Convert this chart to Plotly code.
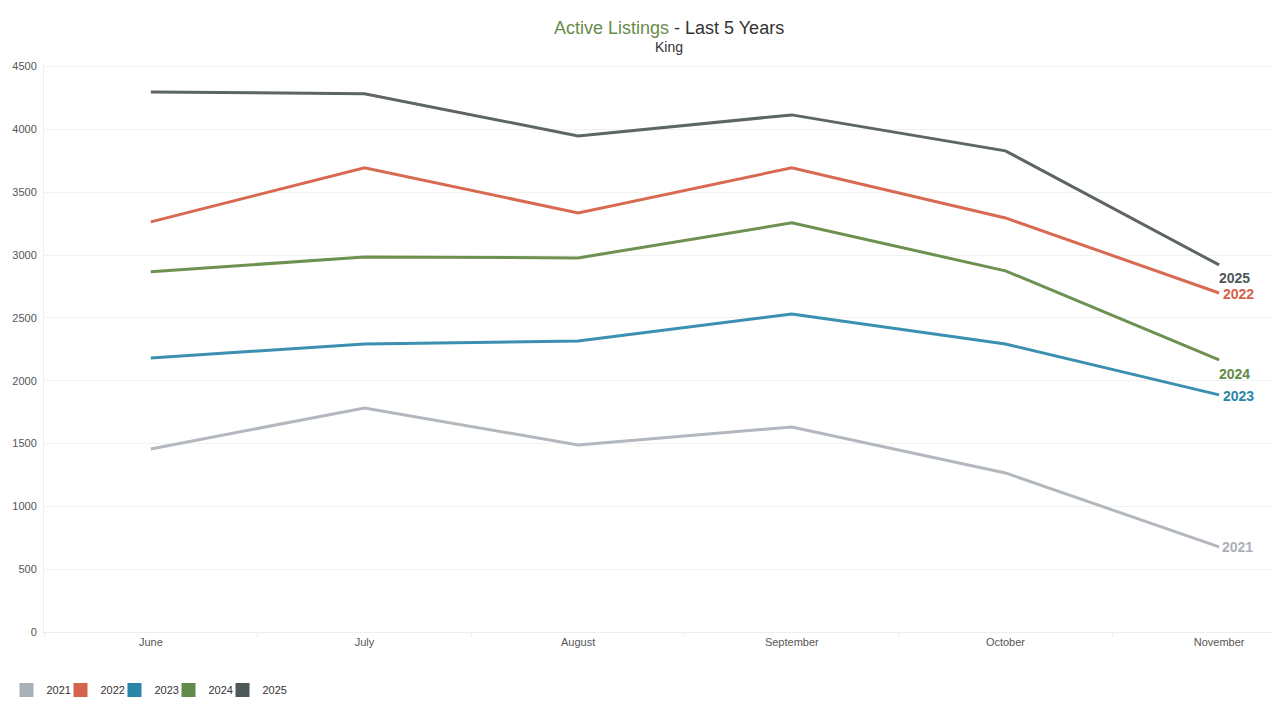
import plotly.graph_objects as go

months = ["June", "July", "August", "September", "October", "November"]
years = ["2021", "2022", "2023", "2024", "2025"]
v2021 = [1457, 1783, 1488, 1632, 1266, 677]
v2022 = [3264, 3694, 3335, 3694, 3295, 2698]
v2023 = [2181, 2292, 2316, 2531, 2292, 1887]
v2024 = [2866, 2985, 2977, 3256, 2874, 2165]
v2025 = [4298, 4283, 3948, 4115, 3829, 2921]
colors = ["#aab0b8", "#d5624a", "#2a86a8", "#628a48", "#4f5859"]
line_colors = ["#b3b8be", "#d86a52", "#3b8fb0", "#6c9150", "#5d6565"]
series = [v2021, v2022, v2023, v2024, v2025]
label_shift = [(18, 0), (19, -1), (19, -1), (15, -14), (15, -13)]

fig = go.Figure()
for yr, vals, lc in zip(years, series, line_colors):
    fig.add_trace(go.Scatter(x=months, y=vals, mode="lines", name=yr,
                             line=dict(color=lc, width=3), showlegend=False,
                             hoverinfo="x+y"))

legend_names = ["legend", "legend2", "legend3", "legend4", "legend5"]
for yr, c, lg in zip(years, colors, legend_names):
    fig.add_trace(go.Scatter(x=[None], y=[None], mode="markers", name=yr,
                             legend=lg,
                             marker=dict(symbol="square", size=14, color=c)))

for yr, vals, c, (dx, dy) in zip(years, series, colors, label_shift):
    fig.add_annotation(x=months[-1], y=vals[-1], text="<b>" + yr + "</b>",
                       showarrow=False, xref="x", yref="y", xanchor="center",
                       yanchor="middle",
                       xshift=dx, yshift=dy, font=dict(size=14, color=c,
                       family="Arial, Liberation Sans, sans-serif"))

# title and subtitle
fig.add_annotation(xref="paper", yref="paper", x=(669 - 44) / 1236, y=(632 - 28) / 568,
                   xanchor="center", yanchor="middle", showarrow=False,
                   text="<span style='color:#6b8a4a'>Active Listings</span> - Last 5 Years",
                   font=dict(size=18, color="#333333"))
fig.add_annotation(xref="paper", yref="paper", x=(669 - 44) / 1236, y=(632 - 47) / 568,
                   xanchor="center", yanchor="middle", showarrow=False,
                   text="King", font=dict(size=14, color="#333333"))

legend_layout = {}
for i, lg in enumerate(legend_names):
    legend_layout[lg] = dict(orientation="h", x=(6.5 + 54 * i - 44) / 1236, xanchor="left",
                             yref="container", y=0.023, yanchor="middle",
                             font=dict(size=11, color="#333333"), itemwidth=30,
                             bgcolor="rgba(0,0,0,0)")

# page body has an 8px margin: compensate so the plot area lands where intended
fig.update_layout(
    width=1272, height=698,
    paper_bgcolor="white", plot_bgcolor="white",
    margin=dict(l=36, r=0, t=56, b=74, autoexpand=False),
    font=dict(family="Arial, Liberation Sans, sans-serif", size=11, color="#555555"),
    xaxis=dict(range=[-0.5, 5.285], showgrid=False, tickson="boundaries",
               ticks="outside", ticklen=4, tickcolor="#eeeeee",
               showline=True, linecolor="#eeeeee", linewidth=1,
               tickfont=dict(size=11, color="#555555"), fixedrange=True),
    yaxis=dict(range=[0, 4520], dtick=500, showgrid=True, gridcolor="#f2f2f2",
               zeroline=False, showline=True, linecolor="#eeeeee",
               tickfont=dict(size=11, color="#555555"), ticklabelstandoff=4),
    showlegend=True,
    **legend_layout,
)

fig.write_html("out.html")
